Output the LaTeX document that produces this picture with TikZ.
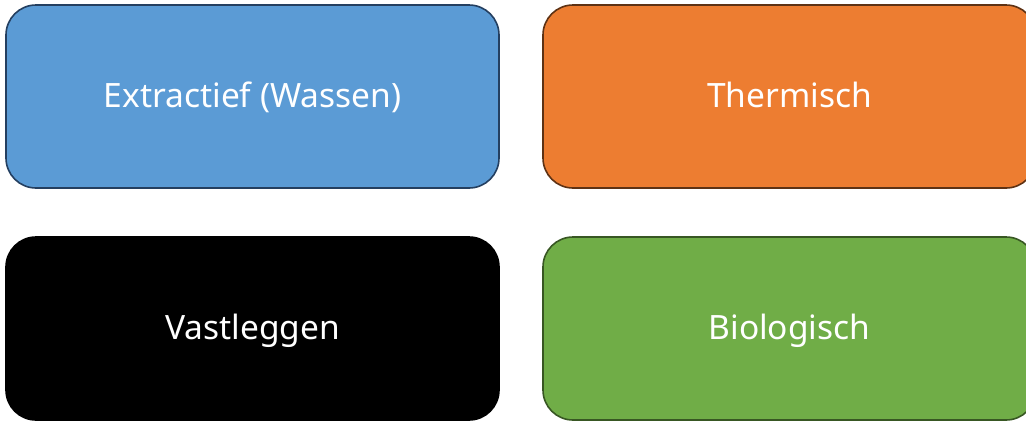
\documentclass[tikz,border=0pt]{standalone}
\usepackage{fontspec}
\setmainfont{Noto Sans}
\definecolor{cblue}{HTML}{5B9BD5}
\definecolor{cbluedk}{HTML}{243F60}
\definecolor{corange}{HTML}{ED7D31}
\definecolor{corangedk}{HTML}{5E3214}
\definecolor{cgreen}{HTML}{70AD47}
\definecolor{cgreendk}{HTML}{385723}
\tikzset{
  catbox/.style={rectangle, rounded corners=30pt, minimum width=493pt, minimum height=183pt,
    line width=1.6pt, text=white, font=\fontsize{33.5}{40}\selectfont, inner sep=0pt,
    text height=24pt, text depth=3pt}
}
\begin{document}
\begin{tikzpicture}[x=1pt,y=-1pt]
\useasboundingbox (0,0) rectangle (1026,421);
\node[catbox, fill=cblue, draw=cbluedk] (ext) at (252.5,96.5) {Extractief (Wassen)};
\node[catbox, fill=corange, draw=corangedk] (thm) at (789.5,96.5) {Thermisch};
\node[catbox, fill=black, draw=black] (vas) at (252.5,328.5) {Vastleggen};
\node[catbox, fill=cgreen, draw=cgreendk] (bio) at (789.5,328.5) {Biologisch};
\end{tikzpicture}
\end{document}
